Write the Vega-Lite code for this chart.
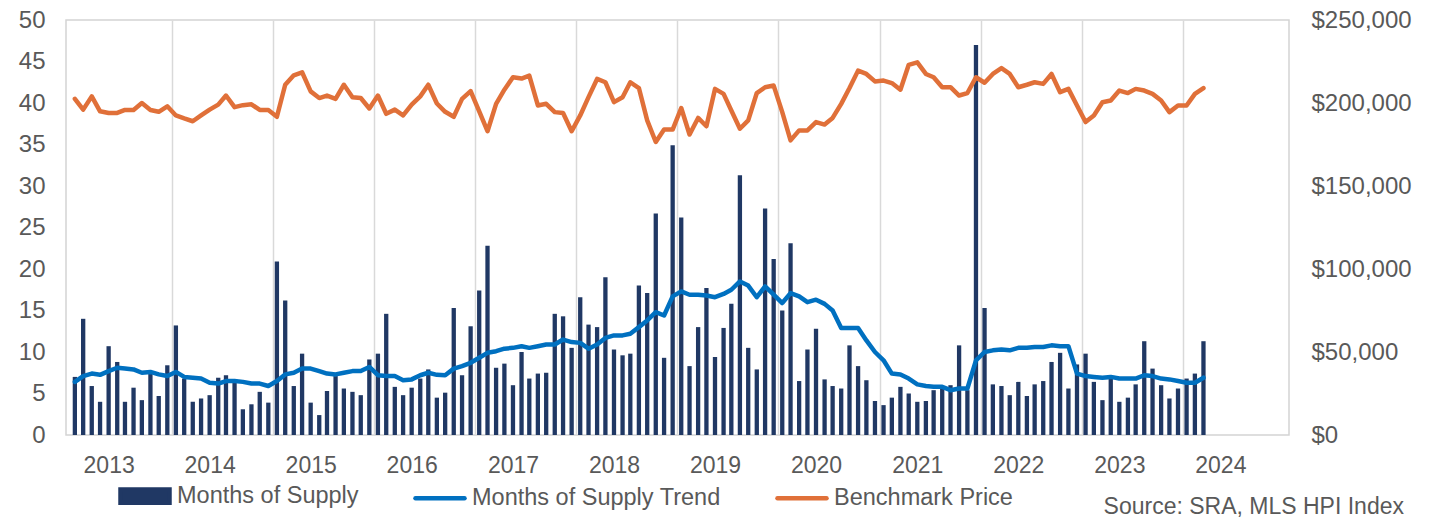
{
 "$schema": "https://vega.github.io/schema/vega-lite/v6.json",
 "width": 1223, "height": 415,
 "autosize": "none",
 "padding": {"left": 66, "top": 20, "right": 148, "bottom": 85},
 "background": "white",
 "config": {"font": "Liberation Sans", "view": {"stroke": "#d4d4d4", "strokeWidth": 1.5}},
 "title": {"text": "Source: SRA, MLS HPI Index", "orient": "bottom", "anchor": "end", "frame": "group", "font": "Liberation Sans", "fontSize": 23, "fontWeight": "normal", "color": "#595959", "dx": 115, "offset": 2, "baseline": "alphabetic"},
 "data": {"values": [
  {"d":"2012/09/15","m":7.0,"t":6.4,"p":202500},
  {"d":"2012/10/15","m":14.0,"t":7.1,"p":196000},
  {"d":"2012/11/15","m":5.9,"t":7.4,"p":204000},
  {"d":"2012/12/15","m":4.0,"t":7.25,"p":195000},
  {"d":"2013/01/15","m":10.7,"t":7.7,"p":194000},
  {"d":"2013/02/15","m":8.8,"t":8.1,"p":194000},
  {"d":"2013/03/15","m":4.0,"t":8.0,"p":195800},
  {"d":"2013/04/15","m":5.7,"t":7.9,"p":195800},
  {"d":"2013/05/15","m":4.2,"t":7.5,"p":200000},
  {"d":"2013/06/15","m":7.4,"t":7.6,"p":195800},
  {"d":"2013/07/15","m":4.7,"t":7.3,"p":194700},
  {"d":"2013/08/15","m":8.4,"t":7.1,"p":198000},
  {"d":"2013/09/15","m":13.2,"t":7.6,"p":192500},
  {"d":"2013/10/15","m":6.8,"t":7.0,"p":190700},
  {"d":"2013/11/15","m":4.0,"t":6.9,"p":189000},
  {"d":"2013/12/15","m":4.4,"t":6.8,"p":192500},
  {"d":"2014/01/15","m":4.8,"t":6.3,"p":196000},
  {"d":"2014/02/15","m":6.9,"t":6.2,"p":199000},
  {"d":"2014/03/15","m":7.2,"t":6.5,"p":204500},
  {"d":"2014/04/15","m":6.3,"t":6.5,"p":197500},
  {"d":"2014/05/15","m":3.1,"t":6.4,"p":198700},
  {"d":"2014/06/15","m":3.7,"t":6.2,"p":199200},
  {"d":"2014/07/15","m":5.2,"t":6.2,"p":195800},
  {"d":"2014/08/15","m":3.9,"t":5.9,"p":195800},
  {"d":"2014/09/15","m":20.9,"t":6.5,"p":191700},
  {"d":"2014/10/15","m":16.2,"t":7.3,"p":211000},
  {"d":"2014/11/15","m":5.9,"t":7.5,"p":216700},
  {"d":"2014/12/15","m":9.8,"t":8.0,"p":218500},
  {"d":"2015/01/15","m":3.9,"t":8.0,"p":207000},
  {"d":"2015/02/15","m":2.4,"t":7.7,"p":203000},
  {"d":"2015/03/15","m":5.3,"t":7.4,"p":204500},
  {"d":"2015/04/15","m":7.1,"t":7.3,"p":202500},
  {"d":"2015/05/15","m":5.6,"t":7.5,"p":211000},
  {"d":"2015/06/15","m":5.2,"t":7.7,"p":203500},
  {"d":"2015/07/15","m":4.8,"t":7.7,"p":203000},
  {"d":"2015/08/15","m":9.1,"t":8.2,"p":196700},
  {"d":"2015/09/15","m":9.8,"t":7.2,"p":204500},
  {"d":"2015/10/15","m":14.6,"t":7.1,"p":193500},
  {"d":"2015/11/15","m":5.8,"t":7.1,"p":196000},
  {"d":"2015/12/15","m":4.8,"t":6.6,"p":192500},
  {"d":"2016/01/15","m":5.7,"t":6.7,"p":199000},
  {"d":"2016/02/15","m":6.8,"t":7.2,"p":204000},
  {"d":"2016/03/15","m":7.9,"t":7.5,"p":211000},
  {"d":"2016/04/15","m":4.5,"t":7.25,"p":199700},
  {"d":"2016/05/15","m":5.1,"t":7.2,"p":194700},
  {"d":"2016/06/15","m":15.3,"t":8.0,"p":191700},
  {"d":"2016/07/15","m":7.2,"t":8.3,"p":202500},
  {"d":"2016/08/15","m":13.1,"t":8.7,"p":207200},
  {"d":"2016/09/15","m":17.4,"t":9.3,"p":195000},
  {"d":"2016/10/15","m":22.8,"t":9.9,"p":183000},
  {"d":"2016/11/15","m":8.1,"t":10.1,"p":199500},
  {"d":"2016/12/15","m":8.6,"t":10.4,"p":208000},
  {"d":"2017/01/15","m":6.0,"t":10.5,"p":215500},
  {"d":"2017/02/15","m":10.0,"t":10.7,"p":214700},
  {"d":"2017/03/15","m":6.8,"t":10.5,"p":216500},
  {"d":"2017/04/15","m":7.4,"t":10.7,"p":198500},
  {"d":"2017/05/15","m":7.5,"t":10.9,"p":199500},
  {"d":"2017/06/15","m":14.6,"t":10.9,"p":194500},
  {"d":"2017/07/15","m":14.3,"t":11.5,"p":194000},
  {"d":"2017/08/15","m":10.5,"t":11.2,"p":183000},
  {"d":"2017/09/15","m":16.6,"t":11.1,"p":192500},
  {"d":"2017/10/15","m":13.3,"t":10.4,"p":203500},
  {"d":"2017/11/15","m":13.0,"t":10.9,"p":214500},
  {"d":"2017/12/15","m":19.0,"t":11.7,"p":212500},
  {"d":"2018/01/15","m":10.3,"t":12.0,"p":200500},
  {"d":"2018/02/15","m":9.6,"t":12.0,"p":203500},
  {"d":"2018/03/15","m":9.8,"t":12.2,"p":212500},
  {"d":"2018/04/15","m":18.0,"t":13.0,"p":209000},
  {"d":"2018/05/15","m":17.1,"t":13.8,"p":189500},
  {"d":"2018/06/15","m":26.7,"t":14.8,"p":176500},
  {"d":"2018/07/15","m":9.3,"t":14.4,"p":184000},
  {"d":"2018/08/15","m":34.9,"t":16.7,"p":184000},
  {"d":"2018/09/15","m":26.2,"t":17.3,"p":197000},
  {"d":"2018/10/15","m":8.3,"t":16.9,"p":181000},
  {"d":"2018/11/15","m":13.0,"t":16.9,"p":191000},
  {"d":"2018/12/15","m":17.7,"t":16.8,"p":186000},
  {"d":"2019/01/15","m":9.4,"t":16.6,"p":208500},
  {"d":"2019/02/15","m":12.9,"t":17.0,"p":205500},
  {"d":"2019/03/15","m":15.8,"t":17.5,"p":195500},
  {"d":"2019/04/15","m":31.3,"t":18.5,"p":184500},
  {"d":"2019/05/15","m":10.5,"t":18.0,"p":189500},
  {"d":"2019/06/15","m":7.9,"t":16.6,"p":206000},
  {"d":"2019/07/15","m":27.3,"t":17.9,"p":209500},
  {"d":"2019/08/15","m":21.2,"t":16.9,"p":210500},
  {"d":"2019/09/15","m":15.0,"t":15.9,"p":194500},
  {"d":"2019/10/15","m":23.1,"t":17.1,"p":177500},
  {"d":"2019/11/15","m":6.5,"t":16.7,"p":183500},
  {"d":"2019/12/15","m":10.3,"t":16.0,"p":183500},
  {"d":"2020/01/15","m":12.8,"t":16.3,"p":188500},
  {"d":"2020/02/15","m":6.7,"t":15.8,"p":187000},
  {"d":"2020/03/15","m":5.9,"t":15.0,"p":191000},
  {"d":"2020/04/15","m":5.6,"t":12.9,"p":199500},
  {"d":"2020/05/15","m":10.8,"t":12.9,"p":209000},
  {"d":"2020/06/15","m":8.3,"t":12.9,"p":219500},
  {"d":"2020/07/15","m":6.6,"t":11.4,"p":217500},
  {"d":"2020/08/15","m":4.1,"t":10.0,"p":213000},
  {"d":"2020/09/15","m":3.6,"t":9.0,"p":213500},
  {"d":"2020/10/15","m":4.5,"t":7.4,"p":212000},
  {"d":"2020/11/15","m":5.8,"t":7.3,"p":208000},
  {"d":"2020/12/15","m":5.0,"t":6.8,"p":223000},
  {"d":"2021/01/15","m":4.0,"t":6.1,"p":224500},
  {"d":"2021/02/15","m":4.1,"t":5.9,"p":217500},
  {"d":"2021/03/15","m":5.4,"t":5.8,"p":215500},
  {"d":"2021/04/15","m":5.6,"t":5.8,"p":209500},
  {"d":"2021/05/15","m":6.0,"t":5.4,"p":209500},
  {"d":"2021/06/15","m":10.8,"t":5.6,"p":204500},
  {"d":"2021/07/15","m":5.4,"t":5.6,"p":206000},
  {"d":"2021/08/15","m":47.0,"t":9.0,"p":215500},
  {"d":"2021/09/15","m":15.3,"t":10.0,"p":212200},
  {"d":"2021/10/15","m":6.1,"t":10.2,"p":217500},
  {"d":"2021/11/15","m":5.9,"t":10.3,"p":221000},
  {"d":"2021/12/15","m":4.8,"t":10.2,"p":217500},
  {"d":"2022/01/15","m":6.4,"t":10.5,"p":209500},
  {"d":"2022/02/15","m":4.7,"t":10.5,"p":211000},
  {"d":"2022/03/15","m":6.1,"t":10.6,"p":212500},
  {"d":"2022/04/15","m":6.5,"t":10.6,"p":211500},
  {"d":"2022/05/15","m":8.8,"t":10.8,"p":217500},
  {"d":"2022/06/15","m":9.9,"t":10.7,"p":206500},
  {"d":"2022/07/15","m":5.6,"t":10.7,"p":208500},
  {"d":"2022/08/15","m":8.5,"t":7.4,"p":198500},
  {"d":"2022/09/15","m":9.8,"t":7.1,"p":188500},
  {"d":"2022/10/15","m":6.4,"t":7.0,"p":192500},
  {"d":"2022/11/15","m":4.2,"t":6.9,"p":200500},
  {"d":"2022/12/15","m":6.8,"t":7.0,"p":201500},
  {"d":"2023/01/15","m":4.0,"t":6.8,"p":207500},
  {"d":"2023/02/15","m":4.5,"t":6.8,"p":206000},
  {"d":"2023/03/15","m":6.1,"t":6.8,"p":208500},
  {"d":"2023/04/15","m":11.3,"t":7.2,"p":207500},
  {"d":"2023/05/15","m":8.0,"t":7.1,"p":205500},
  {"d":"2023/06/15","m":6.0,"t":6.8,"p":201500},
  {"d":"2023/07/15","m":4.4,"t":6.7,"p":194500},
  {"d":"2023/08/15","m":5.6,"t":6.5,"p":198500},
  {"d":"2023/09/15","m":6.8,"t":6.3,"p":198500},
  {"d":"2023/10/15","m":7.4,"t":6.3,"p":205500},
  {"d":"2023/11/15","m":11.3,"t":6.9,"p":209000}
 ]},
 "layer": [
  {"mark": {"type": "bar", "size": 4.3},
   "encoding": {
    "x": {"field": "d", "type": "temporal",
      "scale": {"domain": [{"year": 2012, "month": 9, "date": 1}, {"year": 2024, "month": 9, "date": 1}]},
      "axis": {"values": [{"year":2013,"month":1,"date":15},{"year":2014,"month":1,"date":15},{"year":2015,"month":1,"date":15},{"year":2016,"month":1,"date":15},{"year":2017,"month":1,"date":15},{"year":2018,"month":1,"date":15},{"year":2019,"month":1,"date":15},{"year":2020,"month":1,"date":15},{"year":2021,"month":1,"date":15},{"year":2022,"month":1,"date":15},{"year":2023,"month":1,"date":15},{"year":2024,"month":1,"date":15}],
        "format": "%Y", "grid": false, "ticks": false, "domain": false, "title": null,
        "labelFontSize": 23, "labelColor": "#595959", "labelPadding": 37, "labelBaseline": "alphabetic",
        "labelFlush": false, "labelOverlap": false}},
    "y": {"field": "m", "type": "quantitative", "scale": {"domain": [0, 50]},
      "axis": {"values": [0,5,10,15,20,25,30,35,40,45,50], "title": null, "grid": false, "ticks": false, "domain": false,
        "labelFontSize": 24, "labelColor": "#595959", "labelPadding": 21}},
    "color": {"datum": "Months of Supply", "type": "nominal",
      "scale": {"domain": ["Months of Supply", "Months of Supply Trend", "Benchmark Price"], "range": ["#203864", "#0070c0", "#e07039"]},
      "legend": {"orient": "none", "legendX": 52, "legendY": 449, "direction": "horizontal", "title": null, "padding": 0,
        "labelFontSize": 23.5, "labelColor": "#595959", "labelOffset": 5, "labelLimit": 500, "columnPadding": 47,
        "symbolSize": 2400, "symbolType": "stroke", "symbolStrokeWidth": 4.5,
        "encode": {"symbols": {"update": {
          "shape": {"signal": "datum.value === 'Months of Supply' ? 'M-1,-0.27H1V0.27H-1Z' : 'stroke'"},
          "fill": {"signal": "datum.value === 'Months of Supply' ? '#203864' : 'transparent'"},
          "stroke": {"signal": "datum.value === 'Months of Supply' ? 'transparent' : (datum.value === 'Benchmark Price' ? '#e07039' : '#0070c0')"},
          "strokeWidth": {"value": 4.5},
          "strokeCap": {"value": "round"}
        }}}}}
   }},
  {"mark": {"type": "line", "strokeWidth": 4.5, "strokeCap": "round", "strokeJoin": "round"},
   "encoding": {
    "x": {"field": "d", "type": "temporal",
      "axis": {"values": [{"year":2013,"month":9,"date":1},{"year":2014,"month":9,"date":1},{"year":2015,"month":9,"date":1},{"year":2016,"month":9,"date":1},{"year":2017,"month":9,"date":1},{"year":2018,"month":9,"date":1},{"year":2019,"month":9,"date":1},{"year":2020,"month":9,"date":1},{"year":2021,"month":9,"date":1},{"year":2022,"month":9,"date":1},{"year":2023,"month":9,"date":1}],
        "grid": true, "gridColor": "#d9d9d9", "gridWidth": 1.5, "labels": false, "ticks": false, "domain": false, "title": null, "zindex": 0}},
    "y": {"field": "t", "type": "quantitative", "scale": {"domain": [0, 50]}, "axis": null},
    "color": {"datum": "Months of Supply Trend", "type": "nominal"}
   }},
  {"mark": {"type": "line", "strokeWidth": 4.5, "strokeCap": "round", "strokeJoin": "round"},
   "encoding": {
    "x": {"field": "d", "type": "temporal", "axis": null},
    "y": {"field": "p", "type": "quantitative", "scale": {"domain": [0, 250000]},
      "axis": {"orient": "right", "values": [0,50000,100000,150000,200000,250000], "format": "$,.0f", "title": null, "grid": false, "ticks": false, "domain": false,
        "labelFontSize": 24, "labelColor": "#595959", "labelPadding": 22}},
    "color": {"datum": "Benchmark Price", "type": "nominal"}
   }}
 ],
 "resolve": {"scale": {"y": "independent"}, "axis": {"x": "independent"}}
}
